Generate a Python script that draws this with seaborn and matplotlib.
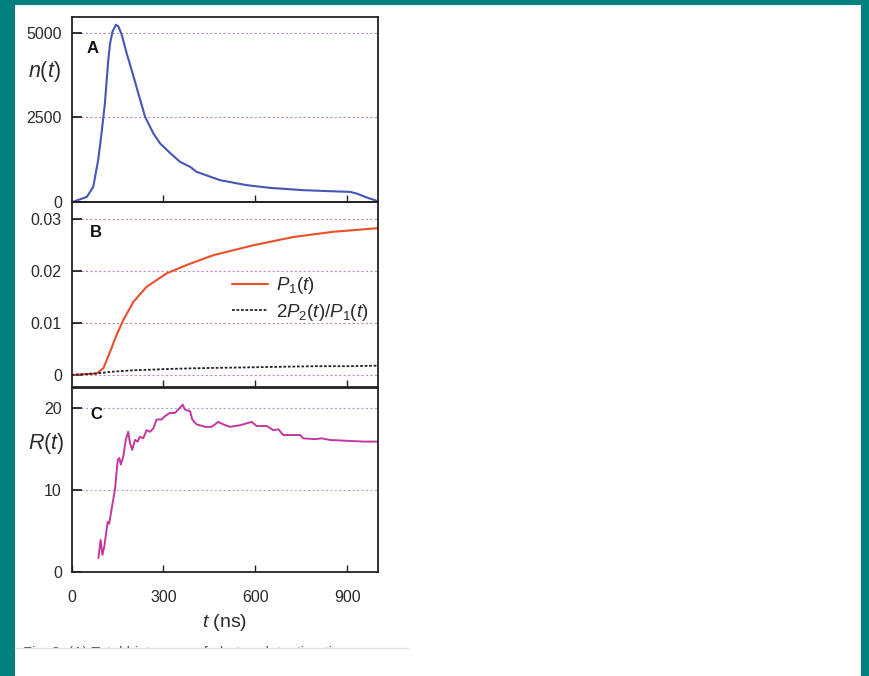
import matplotlib
matplotlib.use("Agg")
import matplotlib.pyplot as plt
import seaborn as sns
import pandas as pd
from matplotlib.patches import Rectangle
from matplotlib.lines import Line2D

# ---------------- data ----------------
t_n = [0, 6, 50, 71, 87, 98, 109, 120, 126, 134, 145, 153, 164, 180, 196, 218, 240, 267,
       289, 321, 354, 387, 408, 484, 572, 648, 756, 843, 909, 930, 963, 990, 1000]
n_vals = [0, 0, 143, 440, 1234, 2027, 2920, 4207, 4700, 5050, 5250, 5200, 4950, 4400, 3910,
          3217, 2520, 2027, 1730, 1450, 1183, 1035, 886, 640, 490, 410, 342, 312, 291, 244,
          125, 45, 0]

t_p = [0, 82, 104, 126, 147, 169, 202, 245, 311, 376, 463, 593, 724, 854, 1000]
p1_vals = [0.0, 0.0003, 0.0013, 0.0045, 0.0077, 0.0106, 0.0141, 0.0170, 0.0196, 0.0212,
           0.0231, 0.0250, 0.0266, 0.0276, 0.0283]

t_p2 = [0, 82, 126, 150, 200, 311, 400, 500, 600, 700, 800, 900, 1000]
p2_vals = [0.0, 0.0003, 0.0006, 0.0007, 0.0009, 0.00115, 0.0013, 0.0014, 0.0015, 0.0016,
           0.0017, 0.0017, 0.0018]

t_r = [88, 95, 101, 107, 118, 123, 131, 142, 151, 156, 161, 169, 177, 185, 191, 198, 207,
       216, 223, 234, 245, 256, 267, 278, 294, 305, 321, 338, 348, 363, 370, 387, 394, 408,
       436, 457, 479, 495, 517, 550, 588, 604, 637, 658, 675, 691, 746, 756, 794, 816, 843,
       898, 952, 1000]
r_vals = [1.7, 3.9, 2.1, 3.1, 6.1, 5.9, 7.7, 10.1, 13.7, 13.9, 13.1, 14.1, 16.1, 17.1, 15.7,
          14.9, 16.1, 15.9, 16.5, 16.3, 17.3, 17.1, 17.5, 18.6, 18.6, 19.0, 19.4, 19.4, 19.8,
          20.4, 19.8, 19.6, 18.6, 18.0, 17.7, 17.7, 18.3, 18.0, 17.7, 17.9, 18.3, 17.8, 17.8,
          17.3, 17.4, 16.7, 16.7, 16.3, 16.2, 16.3, 16.1, 16.0, 15.9, 15.9]

x_ticks = [0, 300, 600, 900]
yticks_a = [0, 2500, 5000]
yticks_b = [0, 0.01, 0.02, 0.03]
yticks_b_labels = ["0", "0.01", "0.02", "0.03"]
yticks_c = [0, 10, 20]

# ---------------- style ----------------
sns.set_theme(style="ticks")
plt.rcParams["font.family"] = ["Liberation Sans", "DejaVu Sans"]
plt.rcParams["mathtext.fontset"] = "custom"
plt.rcParams["mathtext.rm"] = "Liberation Sans"
plt.rcParams["mathtext.it"] = "Liberation Sans:italic"

W, H = 869, 676
fig = plt.figure(figsize=(W / 100, H / 100), dpi=100)
fig.patch.set_facecolor("#008080")
fig.patches.append(Rectangle((15 / W, 0), (861 - 15) / W, 1 - 5 / H, transform=fig.transFigure,
                             facecolor="white", edgecolor="none", zorder=-10))

def fx(px):
    return px / W

def fy(py):
    return 1 - py / H

x0, x1 = 71.5, 378
ax_a = fig.add_axes([fx(x0), fy(201.7), fx(x1 - x0), (201.7 - 17.3) / H])
ax_b = fig.add_axes([fx(x0), fy(387.3), fx(x1 - x0), (387.3 - 201.7) / H])
ax_c = fig.add_axes([fx(x0), fy(572.0), fx(x1 - x0), (572.0 - 388.3) / H])

grid_kw = dict(linestyle=(0, (2, 2)), linewidth=0.8)
TXT = "#2a2a2a"

df_a = pd.DataFrame({"t": t_n, "n": n_vals})
sns.lineplot(data=df_a, x="t", y="n", ax=ax_a, color="#4656b4", linewidth=1.5)
ax_a.set_ylim(0, 5470)
ax_a.set_yticks(yticks_a)
ax_a.set_yticklabels(["0", "2500", "5000"])
for v in [2500, 5000]:
    ax_a.axhline(v, color="#c48ac4", zorder=0, **grid_kw)

df_b1 = pd.DataFrame({"t": t_p, "p": p1_vals})
df_b2 = pd.DataFrame({"t": t_p2, "p": p2_vals})
sns.lineplot(data=df_b1, x="t", y="p", ax=ax_b, color="#e8502a", linewidth=1.5)
sns.lineplot(data=df_b2, x="t", y="p", ax=ax_b, color="#222222", linewidth=1.3,
             linestyle=(0, (1.5, 1)))
ax_b.set_ylim(-0.00237, 0.0334)
ax_b.set_yticks(yticks_b)
ax_b.set_yticklabels(yticks_b_labels)
for v in yticks_b:
    ax_b.axhline(v, color="#c48ac4", zorder=0, **grid_kw)
handles = [Line2D([0], [0], color="#e8502a", linewidth=1.5),
           Line2D([0], [0], color="#222222", linewidth=1.3, linestyle=(0, (1.5, 1)))]
leg = ax_b.legend(handles, [r"$P_1(t)$", r"$2P_2(t)/P_1(t)$"], loc="upper right",
                  bbox_to_anchor=(1.0, 0.655), frameon=False, fontsize=13.5, handlelength=1.9,
                  handletextpad=0.45, labelspacing=0.3, borderaxespad=0.1)
for txt in leg.get_texts():
    txt.set_color(TXT)

df_c = pd.DataFrame({"t": t_r, "R": r_vals})
sns.lineplot(data=df_c, x="t", y="R", ax=ax_c, color="#c2389e", linewidth=1.4)
ax_c.set_ylim(0, 22.4)
ax_c.set_yticks(yticks_c)
ax_c.set_yticklabels(["0", "10", "20"])
for v in [10, 20]:
    ax_c.axhline(v, color="#a8a8d8", zorder=0, **grid_kw)

for ax in (ax_a, ax_b, ax_c):
    ax.set_xlim(0, 1000)
    ax.set_xlabel("")
    ax.set_ylabel("")
    for s in ax.spines.values():
        s.set_visible(True)
        s.set_linewidth(1.3)
        s.set_color("#222222")
    ax.tick_params(axis="y", direction="in", length=7.5, width=1.3, labelsize=11.5,
                   pad=7, colors="#222222", labelcolor=TXT)
    ax.tick_params(axis="x", direction="in", length=5, width=1.0, labelsize=11.5,
                   colors="#222222", labelcolor=TXT)
    ax.set_facecolor("none")

for ax in (ax_a, ax_b):
    ax.set_xticks([300, 600, 900])
    ax.set_xticklabels([])
ax_c.set_xticks(x_ticks)
ax_c.set_xticklabels([str(v) for v in x_ticks])
ax_c.tick_params(axis="x", pad=13)
ax_c.set_xlabel(r"$t$ (ns)", fontsize=14, labelpad=5, color=TXT)

# panel letters
ax_a.text(0.05, 0.83, "A", transform=ax_a.transAxes, fontsize=12, fontweight="bold",
          ha="left", va="center", color="#111111")
ax_b.text(0.06, 0.835, "B", transform=ax_b.transAxes, fontsize=12, fontweight="bold",
          ha="left", va="center", color="#111111")
ax_c.text(0.06, 0.855, "C", transform=ax_c.transAxes, fontsize=12, fontweight="bold",
          ha="left", va="center", color="#111111")

# y labels
fig.text(fx(44), fy(72), r"$n(t)$", fontsize=15.5, ha="center", va="center", color=TXT)
fig.text(fx(46), fy(443), r"$R(t)$", fontsize=15.5, ha="center", va="center", color=TXT)

# cut caption at the bottom (only the very tops of the letters show)
cap_ax = fig.add_axes([fx(15), fy(648), fx(408 - 15), 12 / H])
cap_ax.axis("off")
cap_ax.text(0.02, 0.17, "Fig. 3. (A) Total histogram of photon detection times",
            transform=cap_ax.transAxes, fontsize=10.5, ha="left",
            va="top", clip_on=True, color="#444444")
fig.add_artist(Line2D([fx(15), fx(408)], [fy(648), fy(648)], transform=fig.transFigure,
                      color="#e4e4dc", linewidth=1.0))

fig.savefig("out.png", dpi=100, facecolor=fig.get_facecolor())
